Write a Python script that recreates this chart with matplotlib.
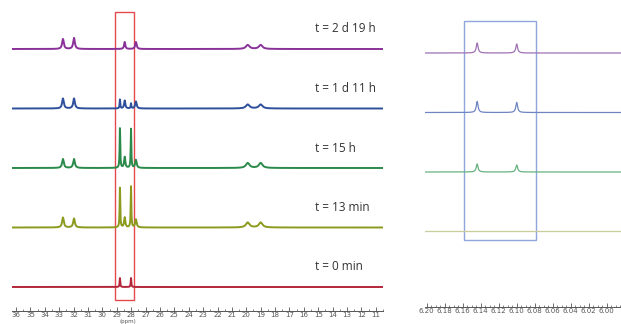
import numpy as np
import matplotlib
matplotlib.use("Agg")
import matplotlib.pyplot as plt
from matplotlib.patches import Rectangle
from matplotlib.ticker import MultipleLocator, FormatStrFormatter

# --- data ----------------------------------------------------------------
# 13C region (left): peak positions (ppm), half widths (ppm)
c_shifts = [32.74, 31.97, 28.78, 28.45, 28.01, 27.67, 19.9, 19.0]
c_widths = [0.07, 0.07, 0.025, 0.05, 0.025, 0.06, 0.15, 0.15]

labels = ["t = 0 min", "t = 13 min", "t = 15 h", "t = 1 d 11 h", "t = 2 d 19 h"]

# peak heights per spectrum (bottom -> top), same order as c_shifts
c_t0 = [0, 0, 9, 0, 9, 0, 0, 0]
c_t13min = [10, 9, 40, 10, 41, 8, 5, 5]
c_t15h = [9, 9, 40, 11, 39, 8, 5, 5]
c_t1d11h = [10, 10, 9, 8, 5, 7, 4, 4]
c_t2d19h = [10, 11, 0, 7, 0, 7, 4, 4]

# 1H region (right): two peaks, four spectra (no t = 0 min trace)
h_shifts = [6.144, 6.100]
h_widths = [0.0012, 0.0012]
h_t13min = [0, 0]
h_t15h = [8, 7]
h_t1d11h = [11, 10]
h_t2d19h = [10, 9]

c_colors = ["#b3263a", "#8c9a1e", "#2a8a4a", "#2d4f9c", "#8a3199"]
h_colors = ["#c9cc9c", "#66b27e", "#6f85c2", "#a071b3"]


def spectrum(x, shifts, widths, heights):
    y = np.zeros_like(x)
    for s, w, h in zip(shifts, widths, heights):
        y += h * w**2 / ((x - s) ** 2 + w**2)
    return y


W, H = 621, 324
fig = plt.figure(figsize=(6.21, 3.24), dpi=100)

base_y = 311          # pixel row of the left axis line
gap = 59.5            # vertical spacing of the stacked spectra
first = 24

# left panel
ax = fig.add_axes([12 / W, (H - base_y) / H, 371 / W, base_y / H])
x = np.linspace(36.28, 10.5, 4000)
c_sets = [c_t0, c_t13min, c_t15h, c_t1d11h, c_t2d19h]
for i, hts in enumerate(c_sets):
    off = first + gap * i
    ax.plot(x, spectrum(x, c_shifts, c_widths, hts) + off,
            color=c_colors[i], lw=1.4, solid_joinstyle="round")
    ax.text(15.2, off + 20, labels[i], fontsize=8.5, color="#333333",
            va="center", ha="left", family="Open Sans")

ax.add_patch(Rectangle((29.1, 11), -1.3, 288, fill=False,
                       edgecolor="#e5484d", lw=1.0, clip_on=False))

ax.set_xlim(36.28, 10.5)
ax.set_ylim(0, base_y)

# right panel
ax2 = fig.add_axes([425 / W, (H - base_y) / H, 196 / W, base_y / H])
xh = np.linspace(6.202, 5.984, 3000)
h_sets = [h_t13min, h_t15h, h_t1d11h, h_t2d19h]
for i, hts in enumerate(h_sets):
    off = first + gap * (i + 1) - 4
    ax2.plot(xh, spectrum(xh, h_shifts, h_widths, hts) + off,
             color=h_colors[i], lw=0.9)

ax2.add_patch(Rectangle((6.159, 71), -0.081, 219, fill=False,
                        edgecolor="#8ea6dc", lw=1.0, clip_on=False))
ax2.set_xlim(6.202, 5.984)
ax2.set_ylim(0, base_y)

for a, major, minor, fmt in [(ax, 1, 0.5, "%d"), (ax2, 0.02, 0.005, "%.2f")]:
    for s in ["top", "left", "right"]:
        a.spines[s].set_visible(False)
    a.spines["bottom"].set_color("#555555")
    a.spines["bottom"].set_linewidth(0.7)
    a.set_yticks([])
    a.xaxis.set_major_locator(MultipleLocator(major))
    a.xaxis.set_minor_locator(MultipleLocator(minor))
    a.xaxis.set_major_formatter(FormatStrFormatter(fmt))
    a.tick_params(axis="x", which="major", direction="in", length=3, width=0.6,
                  labelsize=5, labelcolor="#555555", color="#555555", pad=1)
    a.tick_params(axis="x", which="minor", direction="in", length=1.5, width=0.5,
                  color="#555555")
    a.patch.set_visible(False)

ax2.spines["bottom"].set_position(("data", 4))

fig.text(128 / W, 0.3 / H, "(ppm)", fontsize=4, color="#555555",
         ha="center", va="bottom")

fig.savefig("out.png", dpi=100)
